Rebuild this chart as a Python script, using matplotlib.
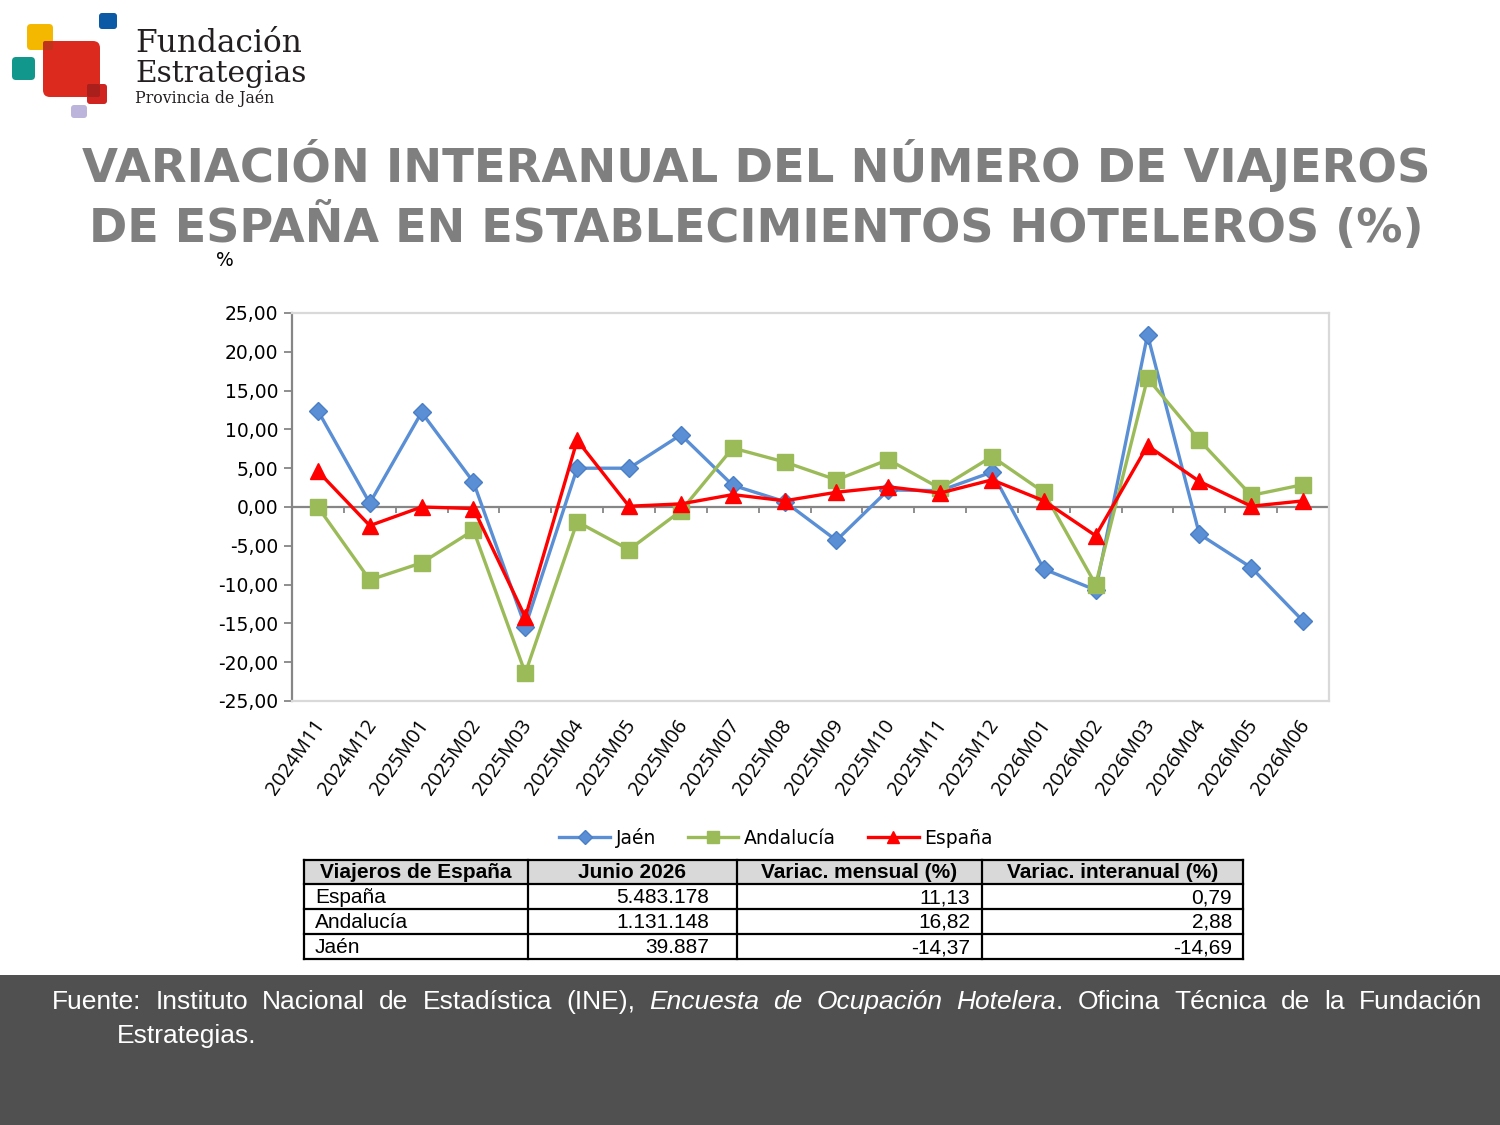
import matplotlib
matplotlib.use("Agg")
import matplotlib.pyplot as plt
import numpy as np
from matplotlib import font_manager
from matplotlib.patches import FancyBboxPatch, Rectangle
from matplotlib.transforms import ScaledTranslation

# ---- data -------------------------------------------------------------
periods = ["2024M11", "2024M12", "2025M01", "2025M02", "2025M03", "2025M04",
           "2025M05", "2025M06", "2025M07", "2025M08", "2025M09", "2025M10",
           "2025M11", "2025M12", "2026M01", "2026M02", "2026M03", "2026M04",
           "2026M05", "2026M06"]
jaen = [12.4, 0.5, 12.2, 3.2, -15.4, 5.0, 5.0, 9.3, 2.8, 0.7,
        -4.3, 2.2, 2.1, 4.5, -8.0, -10.7, 22.2, -3.5, -7.8, -14.69]
andalucia = [0.0, -9.4, -7.2, -3.0, -21.4, -1.9, -5.5, -0.5, 7.6, 5.8,
             3.5, 6.1, 2.4, 6.5, 1.9, -10.0, 16.6, 8.6, 1.5, 2.88]
espana = [4.6, -2.4, 0.0, -0.2, -14.2, 8.6, 0.1, 0.4, 1.6, 0.8,
          1.9, 2.6, 1.8, 3.5, 0.8, -3.7, 7.9, 3.3, 0.1, 0.79]

table_header = ["Viajeros de España", "Junio 2026", "Variac. mensual (%)",
                "Variac. interanual (%)"]
table_regions = ["España", "Andalucía", "Jaén"]
table_viajeros = ["5.483.178", "1.131.148", "39.887"]
table_mensual = ["11,13", "16,82", "-14,37"]
table_interanual = ["0,79", "2,88", "-14,69"]

title_lines = ["VARIACIÓN INTERANUAL DEL NÚMERO DE VIAJEROS",
               "DE ESPAÑA EN ESTABLECIMIENTOS HOTELEROS (%)"]
source_words = [[("Fuente:", "normal")], [("Instituto", "normal")],
                [("Nacional", "normal")], [("de", "normal")],
                [("Estadística", "normal")], [("(INE),", "normal")],
                [("Encuesta", "italic")], [("de", "italic")],
                [("Ocupación", "italic")], [("Hotelera", "italic"), (".", "normal")],
                [("Oficina", "normal")], [("Técnica", "normal")],
                [("de", "normal")], [("la", "normal")], [("Fundación", "normal")]]
source_line2 = "Estrategias."

installed = {f.name for f in font_manager.fontManager.ttflist}
narrow = "Liberation Sans Narrow" in installed
TABLE_FONT = ["Liberation Sans Narrow"] if narrow else ["Liberation Sans", "DejaVu Sans"]
TABLE_SIZE = 17 if narrow else 15

W, H = 1500, 1125
fig = plt.figure(figsize=(15, 11.25), dpi=100)
renderer = fig.canvas.get_renderer()

# pixel-coordinate layer for logo, title, table and footer
deco = fig.add_axes([0, 0, 1, 1])
deco.set_xlim(0, W)
deco.set_ylim(H, 0)
deco.axis("off")
deco.set_zorder(0)


def fit_width(t, target):
    w = t.get_window_extent(renderer).width
    t.set_fontsize(t.get_fontsize() * target / w)


# ---- logo ---------------------------------------------------------------
def rbox(x0, y0, x1, y1, color, r=4):
    deco.add_patch(FancyBboxPatch((x0 + r, y0 + r), x1 - x0 - 2 * r, y1 - y0 - 2 * r,
                                  boxstyle=f"round,pad={r}", fc=color, ec="none"))


rbox(27, 24, 53, 50, "#f5b800")
rbox(99, 13, 117, 29, "#0b5aa6", r=3)
rbox(12, 57, 35, 80, "#12978c")
rbox(43, 41, 100, 97, "#dc2a1f", r=7)
rbox(43, 41, 53, 50, "#c0341c", r=2)
rbox(87, 84, 107, 104, "#d02420", r=3)
rbox(87, 84, 100, 97, "#a91f1b", r=2)
rbox(71, 105, 87, 118, "#bdb4dc", r=3)
for yb, txt, size in [(52, "Fundación", 22.5), (82, "Estrategias", 21.3),
                      (103, "Provincia de Jaén", 11.3)]:
    deco.text(135, yb, txt, family="DejaVu Serif", fontsize=size,
              color="#231f20", va="baseline")

# ---- title --------------------------------------------------------------
for yb, line, target in zip([182, 242], title_lines, [1348, 1337]):
    t = deco.text(756, yb, line, ha="center", va="baseline", fontsize=36,
                  fontweight="bold", color="#7f7f7f", family="DejaVu Sans")
    fit_width(t, target)

fig.text(225 / W, 1 - 261 / H, "%", ha="center", va="center", fontsize=13.5)

# ---- chart --------------------------------------------------------------
ax = fig.add_axes([292 / W, 1 - 701 / H, (1329 - 292) / W, (701 - 313) / H])
ax.set_zorder(1)
x = np.arange(len(periods))
series = [(jaen, "Jaén", "#5a8fd5", "#4a7fc6", "D", 9.5),
          (andalucia, "Andalucía", "#9bbb59", "#9bbb59", "s", 11.5),
          (espana, "España", "#ff0000", "#ff0000", "^", 12)]
for vals, name, col, edge, mk, ms in series:
    ax.plot(x, vals, color=col, lw=2.4, marker=mk, ms=ms, mfc=col, mec=edge,
            mew=1.0, label=name, zorder=3, clip_on=False)

ax.set_xlim(-0.5, len(periods) - 0.5)
ax.set_ylim(-25, 25)
yt = np.arange(-25, 26, 5)
ax.set_yticks(yt)
ax.set_yticklabels([f"{v:.2f}".replace(".", ",") for v in yt], fontsize=13.5)
ax.tick_params(axis="y", length=6, width=1.3, color="#868686", pad=4)
ax.set_xticks(x)
ax.set_xticklabels(periods, rotation=55, ha="right", va="center",
                   rotation_mode="anchor", fontsize=14.5, family="Open Sans")
ax.tick_params(axis="x", length=0, pad=15)
shift = ScaledTranslation(3 / 100, 0, fig.dpi_scale_trans)
for lab in ax.get_xticklabels():
    lab.set_transform(lab.get_transform() + shift)

ax.spines["left"].set_color("#868686")
ax.spines["left"].set_linewidth(1.6)
for s in ["top", "right", "bottom"]:
    ax.spines[s].set_color("#d9d9d9")
    ax.spines[s].set_linewidth(1.6)
ax.axhline(0, color="#868686", lw=1.6, zorder=2)
ax.vlines(np.arange(-0.5, len(periods), 1), -0.75, 0, color="#868686",
          lw=1.3, zorder=2)

fig.legend(loc="center", bbox_to_anchor=(776 / W, 1 - 838 / H), ncol=3,
           frameon=False, fontsize=13.5, handlelength=2.7, handletextpad=0.3,
           columnspacing=1.7, markerscale=0.7)

# ---- table --------------------------------------------------------------
cx = [304, 528, 737, 982, 1243]
ry = [860, 884, 909, 934, 959]
right_margin = [28, 12, 11]
deco.add_patch(Rectangle((cx[0], ry[0]), cx[-1] - cx[0], ry[1] - ry[0],
                         fc="#d9d9d9", ec="none"))
for xv in cx:
    deco.plot([xv, xv], [ry[0], ry[-1]], color="black", lw=1.6,
              solid_capstyle="projecting")
for yv in ry:
    deco.plot([cx[0], cx[-1]], [yv, yv], color="black", lw=1.6,
              solid_capstyle="projecting")
for j, head in enumerate(table_header):
    deco.text((cx[j] + cx[j + 1]) / 2, (ry[0] + ry[1]) / 2 + 1, head,
              ha="center", va="center", fontweight="bold",
              family=TABLE_FONT, fontsize=TABLE_SIZE)
cols = [table_regions, table_viajeros, table_mensual, table_interanual]
for i in range(len(table_regions)):
    yc = (ry[i + 1] + ry[i + 2]) / 2 + 1
    deco.text(cx[0] + 11, yc, cols[0][i], ha="left", va="center",
              family=TABLE_FONT, fontsize=TABLE_SIZE)
    for j in range(1, 4):
        deco.text(cx[j + 1] - right_margin[j - 1], yc, cols[j][i], ha="right",
                  va="center", family=TABLE_FONT, fontsize=TABLE_SIZE)

# ---- footer -------------------------------------------------------------
deco.add_patch(Rectangle((0, 975), W, H - 975, fc="#505050", ec="none"))
fsize = 19
x_left, x_right, base1 = 52, 1482, 1009
pieces = []
total = 0
for word in source_words:
    parts = []
    for txt, style in word:
        t = deco.text(0, base1, txt, fontsize=fsize, style=style,
                      color="white", va="baseline", family="Liberation Sans")
        w = t.get_window_extent(renderer).width
        parts.append((t, w))
        total += w
    pieces.append(parts)
gap = max((x_right - x_left - total) / (len(pieces) - 1), 4)
xp = x_left
for parts in pieces:
    for t, w in parts:
        t.set_x(xp)
        xp += w
    xp += gap
deco.text(117, base1 + 34, source_line2, fontsize=fsize, color="white",
          va="baseline", family="Liberation Sans")

fig.savefig("out.png", dpi=100)
